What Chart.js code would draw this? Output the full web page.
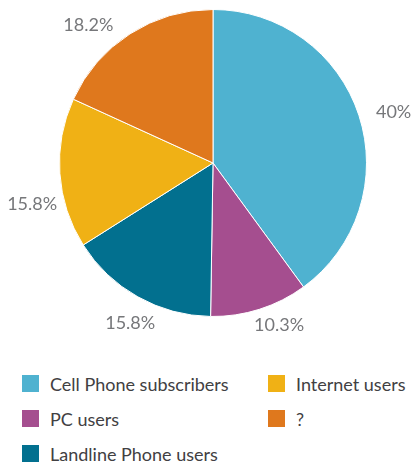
<!DOCTYPE html>
<html>
<head>
<meta charset="utf-8">
<script src="https://cdn.jsdelivr.net/npm/chart.js@4.4.1/dist/chart.umd.min.js"></script>
<style>
    body { margin: 0; background: #fff; width: 417px; height: 467px; position: relative; overflow: hidden; }
    .chart-box { position: absolute; left: 0; top: 0; width: 417px; height: 350px; }
    .legend {
        position: absolute; left: 22px; top: 366px;
        display: grid; grid-auto-flow: column;
        grid-template-rows: repeat(3, 35px);
        grid-template-columns: 246px 150px;
        font-family: Lato, "Liberation Sans", sans-serif;
        font-size: 18px; color: #414042; white-space: nowrap;
    }
    .legend-item { display: flex; align-items: center; }
    .legend-item span.box { width: 17px; height: 17px; margin-right: 11px; flex: none; }
</style>
</head>
<body>
<div class="chart-box"><canvas class="pie-chart" width="417" height="350"></canvas></div>
<div class="legend"></div>

<script>
const labels = ['Cell Phone subscribers', 'PC users', 'Landline Phone users', 'Internet users', '?'];
const shares = [40, 10.3, 15.8, 15.8, 18.2];
const colors = ['#4FB2D0', '#A54E8F', '#02708F', '#F0B115', '#DF781D'];

// draws "xx%" just outside each slice
const outsideLabels = {
    id: 'outsideLabels',
    afterDatasetsDraw(chart, args, opts) {
        const ctx = chart.ctx;
        const meta = chart.getDatasetMeta(0);
        ctx.save();
        ctx.font = '18px Lato, "Liberation Sans", sans-serif';
        ctx.fillStyle = '#76777A';
        ctx.textAlign = 'center';
        ctx.textBaseline = 'middle';
        meta.data.forEach((arc, i) => {
            const p = arc.getProps(['x', 'y', 'startAngle', 'endAngle', 'outerRadius'], true);
            const mid = (p.startAngle + p.endAngle) / 2 + (opts.nudge[i] || 0) * Math.PI / 180;
            const r = p.outerRadius + opts.offset[i];
            ctx.fillText(shares[i] + '%', p.x + Math.cos(mid) * r, p.y + Math.sin(mid) * r);
        });
        ctx.restore();
    }
};

function createPieChart() {
    const ctx = document.querySelector('.pie-chart').getContext('2d');
    return new Chart(ctx, {
        type: 'pie',
        data: {
            labels: labels,
            datasets: [{
                data: shares,
                backgroundColor: colors,
                borderColor: '#FFFFFF',
                borderWidth: 1
            }]
        },
        options: {
            responsive: false,
            animation: false,
            layout: { padding: { left: 59, right: 50, top: 9, bottom: 33 } },
            plugins: {
                legend: { display: false },
                tooltip: { enabled: false },
                outsideLabels: { offset: [34, 22, 27, 32, 32], nudge: [2.5, -4.5, -2, -9, -9.5] }
            }
        },
        plugins: [outsideLabels]
    });
}

function buildLegend(chart) {
    const box = document.querySelector('.legend');
    const items = Chart.overrides.pie.plugins.legend.labels.generateLabels(chart);
    items.forEach(item => {
        const div = document.createElement('div');
        div.className = 'legend-item';
        const sw = document.createElement('span');
        sw.className = 'box';
        sw.style.background = item.fillStyle;
        div.appendChild(sw);
        div.appendChild(document.createTextNode(item.text));
        box.appendChild(div);
    });
}

const chart = createPieChart();
buildLegend(chart);
</script>
</body>
</html>
